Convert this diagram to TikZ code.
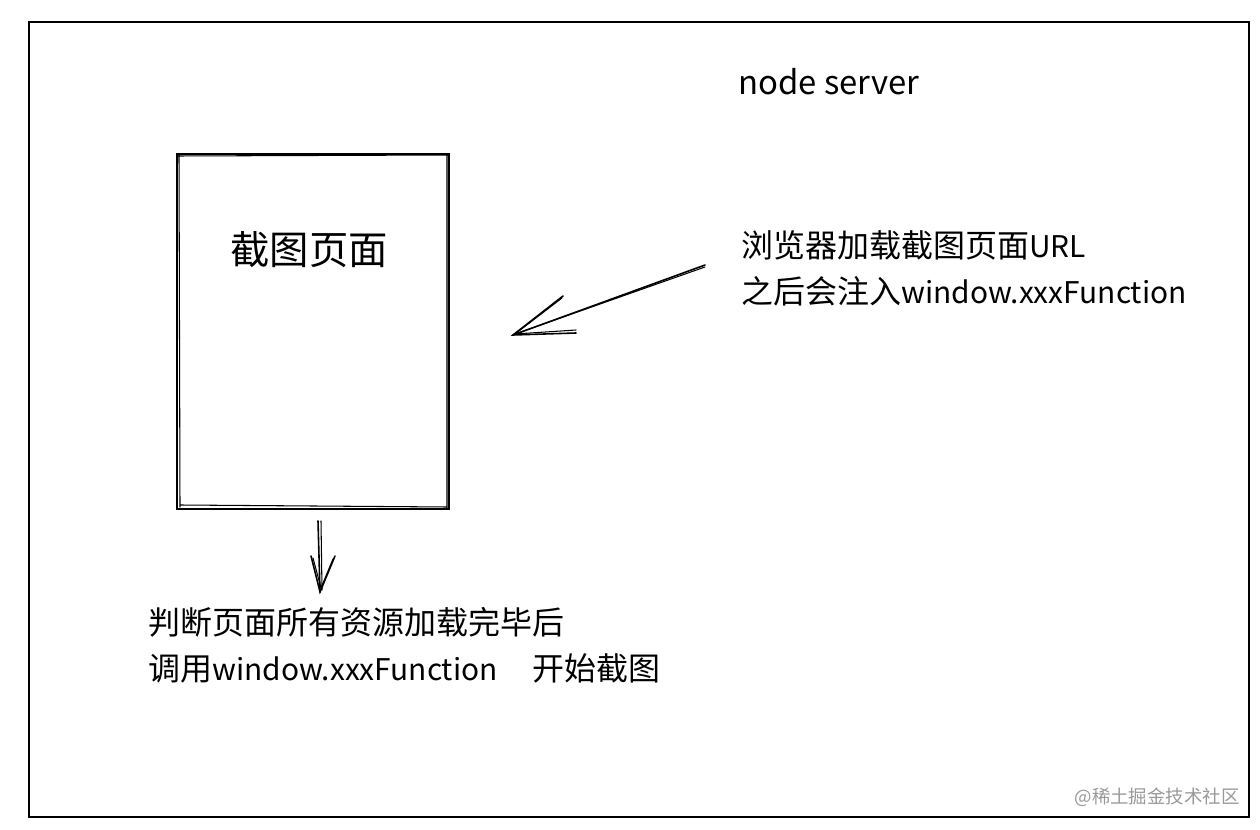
\documentclass[tikz,border=0pt]{standalone}
\usepackage{fontspec}
\usetikzlibrary{calc}
\setmainfont{Noto Sans CJK SC}
\newfontfamily\cjk{Noto Sans CJK SC}
\newcommand{\lat}[1]{{\fontsize{17}{20}\selectfont #1}}
\begin{document}
\begin{tikzpicture}[x=0.02cm,y=-0.02cm,
  frame/.style={line width=1.6pt,black},
  sketch/.style={line width=0.9pt,black,line cap=round},
  txt/.style={anchor=west,inner sep=0pt,font=\cjk\fontsize{18.2}{22}\selectfont},
  wm/.style={anchor=east,inner sep=0pt,text=black!40,font=\cjk\fontsize{10.5}{12}\selectfont}]
\useasboundingbox (0,0) rectangle (1260,830);
\fill[white] (0,0) rectangle (1260,830);
% outer frame
\draw[frame] (29,22) -- (1249,22) -- (1249,817) -- (29,817) -- cycle;
% page box (sketchy double stroke)
\node[draw=none,minimum width=272*0.02cm,minimum height=355*0.02cm,inner sep=0pt] (page) at (313,331.5) {};
\draw[sketch] (177,154) -- (449,154) -- (449,509) -- (177,509) -- cycle;
\draw[sketch,line width=0.6pt] (178,156) -- (448,155) (447,156) -- (447,508) (180,505) -- (447,507) (179,155) -- (180,507);
\node[inner sep=0pt,font=\cjk\fontsize{22.4}{26}\selectfont] (title) at (309,250) {截图页面};
% labels
\node[inner sep=0pt,anchor=west,font=\cjk\fontsize{18.7}{22}\selectfont] (server) at (738,82) {node server};
\node[txt] (l1) at (741,245) {浏览器加载截图页面\lat{URL}};
\node[txt] (l2) at (741,291) {之后会注入\lat{window.xxxFunction}};
\node[txt] (b1) at (148,622) {判断页面所有资源加载完毕后};
\node[txt] (b2) at (148,668) {调用\lat{window.xxxFunction}\hspace{1.1em}开始截图};
\node[wm] (wm) at (1240,797) {@稀土掘金技术社区};
% arrow 1
\coordinate (a1s) at (705,265);
\coordinate (a1t) at (513,335);
\coordinate (a1h1) at (563,296);
\coordinate (a1h2) at (576,333);
\draw[sketch] (a1s) -- (a1t);
\draw[sketch,line width=0.6pt] ($(a1s)+(0,2)$) -- ($(a1t)+(2,-1)$);
\draw[sketch] (a1h1) -- (a1t) -- (a1h2);
\draw[sketch,line width=0.6pt] ($(a1h1)+(-1,2)$) -- ($(a1t)+(2,-1)$) -- ($(a1h2)+(0,-3)$);
% arrow 2
\coordinate (a2s) at (318,521);
\coordinate (a2t) at (320,592);
\draw[sketch] (a2s) -- (a2t);
\draw[sketch,line width=0.6pt] (321,521) -- (322,590);
\draw[sketch] (311,556) -- (a2t) -- (335,556);
\draw[sketch,line width=0.6pt] (313,558) -- (321,588) -- (333,559);
\end{tikzpicture}
\end{document}
